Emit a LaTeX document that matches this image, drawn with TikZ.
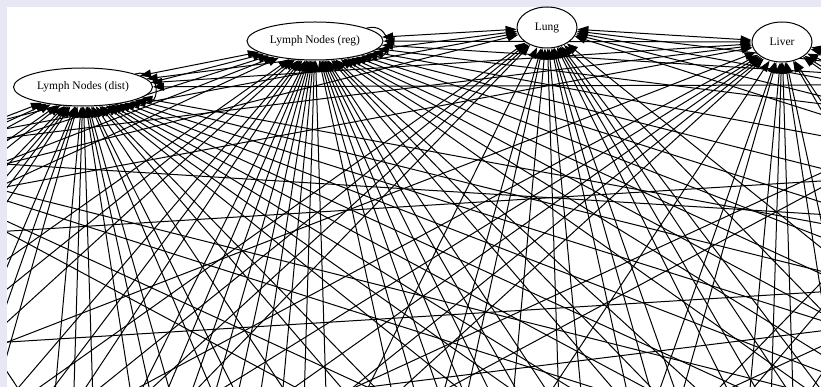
\documentclass[tikz,border=0pt]{standalone}
\usepackage{fontspec}
\setmainfont{Liberation Serif}
\usetikzlibrary{shapes.geometric,arrows.meta,calc}
\definecolor{framebg}{RGB}{232,232,244}
\pgfdeclarelayer{back}
\pgfdeclarelayer{edges}
\pgfsetlayers{back,edges,main}
\begin{document}
\begin{tikzpicture}[x=1pt,y=1pt,
  gnode/.style={ellipse,draw,line width=1pt,fill=white,inner sep=0pt,
    font=\fontsize{11.5}{13}\selectfont},
  edge/.style={line width=1pt,{Triangle[length=11pt,width=8pt]}-{Triangle[length=11pt,width=8pt]}},
  loopedge/.style={line width=1pt,-{Triangle[length=11pt,width=8pt]}}]
\useasboundingbox (0,0) rectangle (821,-387);
\begin{pgfonlayer}{back}
\fill[framebg] (0,0) rectangle (821,-387);
\fill[white] (7,-7) rectangle (821,-387);
\end{pgfonlayer}
\begin{scope}
\clip (7,-7) rectangle (821,-387);
\node[gnode,minimum width=60pt,minimum height=41pt] (n0) at (547,-27.5) {Lung};
\node[gnode,minimum width=60pt,minimum height=40pt] (n1) at (782,-42) {Liver};
\node[gnode,minimum width=136pt,minimum height=38pt] (n50) at (315,-41) {Lymph Nodes (reg)};
\node[gnode,minimum width=139pt,minimum height=38pt] (n49) at (83,-87) {Lymph Nodes (dist)};
\foreach \k in {2,...,48}{
  \coordinate (n\k) at ($(550,-1927)+({90-\k*7.0588}:1900)$);
}
\end{scope}
\begin{pgfonlayer}{edges}
\begin{scope}
\clip (7,-7) rectangle (821,-387);
\pgfmathsetseed{7}
\foreach \i in {0,...,49}{
  \pgfmathtruncatemacro{\js}{\i+1}
  \foreach \j in {\js,...,50}{
    \pgfmathtruncatemacro{\va}{(\i<2) || (\i>48)}
    \pgfmathtruncatemacro{\vb}{(\j<2) || (\j>48)}
    \pgfmathtruncatemacro{\lymph}{(\j>48)}
    \pgfmathsetmacro{\p}{(\va+\vb==2) ? 1.0 : ((\lymph==1) ? 0.8 : ((\va==1) ? 0.5 : 0.25))}
    \pgfmathtruncatemacro{\hit}{rnd<\p}
    \ifnum\hit=1 \draw[edge] (n\i) -- (n\j);\fi
  }
}
\draw[loopedge] (n49.14) .. controls +(26,7) and +(26,-7) .. (n49.-14);
\draw[loopedge] (n50.14) .. controls +(26,7) and +(26,-7) .. (n50.-14);
\end{scope}
\end{pgfonlayer}
\end{tikzpicture}
\end{document}
